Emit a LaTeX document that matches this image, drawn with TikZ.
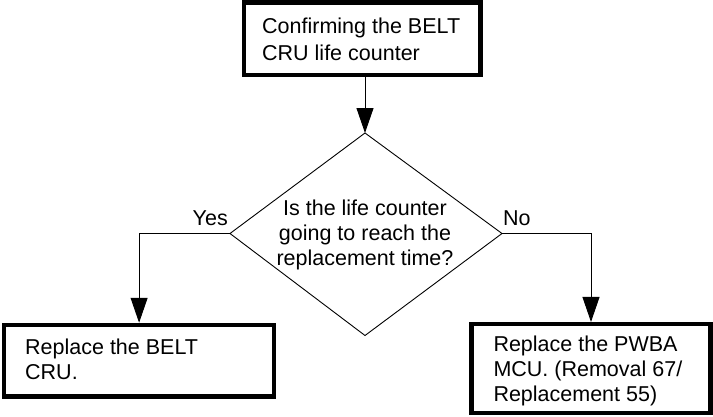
\documentclass[tikz,border=0pt]{standalone}
\usepackage{fontspec}
\setmainfont{Liberation Sans}
\usetikzlibrary{arrows.meta}
\begin{document}
\begin{tikzpicture}[x=1pt,y=-1pt,
  box/.style={draw, line width=4.5pt, rectangle, inner sep=0pt},
  conn/.style={draw, line width=0.9pt, -{Triangle[length=25pt,width=17pt]}},
  edge/.style={draw, line width=0.9pt},
  txt/.style={inner sep=0pt, font=\fontsize{21.5}{25.5}\selectfont},
]
\useasboundingbox (0,0) rectangle (713,416);
% boxes
\node[box, minimum width=236.5pt, minimum height=72.5pt] (start) at (362.25,38.5) {};
\node[box, minimum width=269.8pt, minimum height=71.5pt] (belt) at (139.1,360.75) {};
\node[box, minimum width=238.6pt, minimum height=88.8pt] (pwba) at (591,368.6) {};
% box texts
\node[txt, font=\fontsize{21.5}{26.7}\selectfont, anchor=base west] (starttext) at (262,33.3)
  {\vtop{\hbox{Confirming the BELT}\hbox{CRU life counter}}};
\node[txt, anchor=base west] (belttext) at (25,354.3)
  {\vtop{\hbox{Replace the BELT}\hbox{CRU.}}};
\node[txt, font=\fontsize{21.5}{25}\selectfont, anchor=base west] (pwbatext) at (493.3,351.7)
  {\vtop{\hbox{Replace the PWBA}\hbox{MCU. (Removal 67/}\hbox{Replacement 55)}}};
% decision diamond
\coordinate (dt) at (365,133);
\coordinate (db) at (365,335.5);
\coordinate (dl) at (230,233.5);
\coordinate (dr) at (502,233.5);
\draw[edge] (dt) -- (dr) -- (db) -- (dl) -- cycle;
\node[txt, font=\fontsize{21.5}{25}\selectfont, anchor=base] (question) at (365,215.7)
  {\vtop{\halign{\hfil#\hfil\cr Is the life counter\cr going to reach the\cr replacement time?\cr}}};
% connectors
\draw[conn] (start.south -| dt) -- (dt);
\draw[conn] (dl) -| (belt.north);
\draw[conn] (dr) -| (pwba.north);
% labels
\node[txt, anchor=base east] (yes) at (228,225) {Yes};
\node[txt, anchor=base west] (no) at (503,225) {No};
\end{tikzpicture}
\end{document}
